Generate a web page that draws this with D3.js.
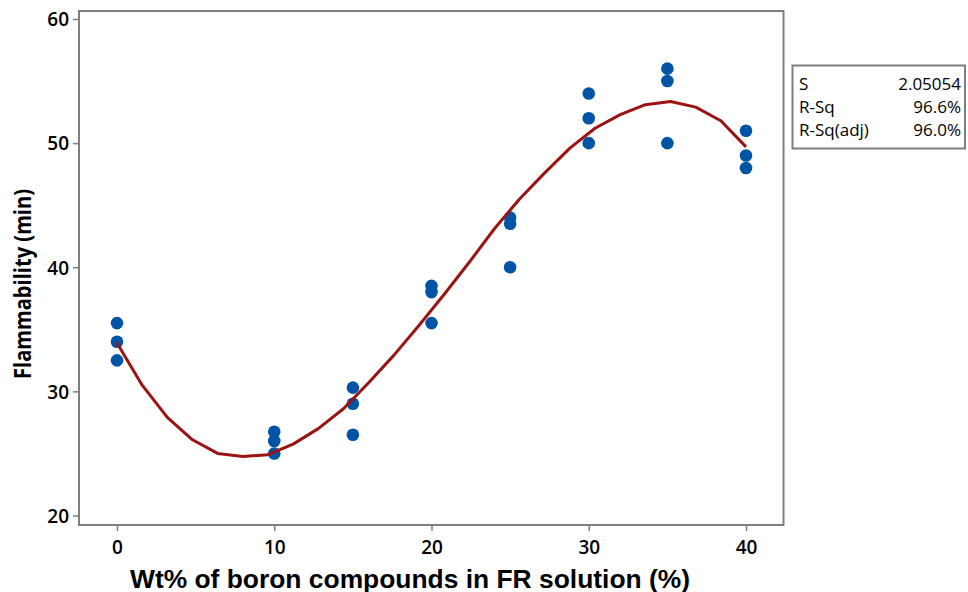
<!DOCTYPE html>
<html>
<head>
<meta charset="utf-8">
<script src="https://cdn.jsdelivr.net/npm/d3@7"></script>
<style>
  body { margin: 0; background: #fff; }
  svg { display: block; }
</style>
</head>
<body>
<svg id="chart" width="968" height="592"></svg>
<script>
// observed flammability, three replicates per loading
const WT_LEVELS = [0, 10, 15, 20, 25, 30, 35, 40];
const REPLICATES = [
    [35.5, 34.0, 32.5],
    [26.75, 26.0, 25.0],
    [30.3, 29.0, 26.5],
    [38.5, 38.0, 35.5],
    [44.0, 43.5, 40.0],
    [54.0, 52.0, 50.0],
    [56.0, 55.0, 50.0],
    [51.0, 49.0, 48.0]
];

// fitted line (vertex every 1.6 wt%)
const FIT_X = [0, 1.6, 3.2, 4.8, 6.4, 8.0, 9.6, 11.2, 12.8, 14.4, 16.0, 17.6, 19.2,
    20.8, 22.4, 24.0, 25.6, 27.2, 28.8, 30.4, 32.0, 33.6, 35.2, 36.8, 38.4, 40.0];
const FIT_Y = [33.9, 30.5, 27.9, 26.1, 25.0, 24.75, 24.9, 25.75, 27.0, 28.6, 30.7, 32.9, 35.3,
    37.8, 40.4, 43.1, 45.5, 47.6, 49.6, 51.2, 52.3, 53.1, 53.35, 52.9, 51.8, 49.7];

const X_TICKS = [0, 10, 20, 30, 40];
const Y_TICKS = [20, 30, 40, 50, 60];

const STAT_LABELS = ['S', 'R-Sq', 'R-Sq(adj)'];
const STAT_VALUES = ['2.05054', '96.6%', '96.0%'];

const X_TITLE = 'Wt% of boron compounds in FR solution (%)';
const Y_TITLE = 'Flammability (min)';

const FRAME = { left: 79, top: 11, right: 783.5, bottom: 525 };
const AXIS_COLOUR = '#7f7f7f';
const POINT_COLOUR = '#0054a6';
const LINE_COLOUR = '#9b1313';

const svg = d3.select('#chart');

const xScale = d3.scaleLinear().domain([0, 40]).range([117, 746]);
const yScale = d3.scaleLinear().domain([20, 60]).range([515.5, 19]);

// axes
const xAxis = svg.append('g')
    .attr('transform', `translate(0,${FRAME.bottom})`)
    .call(d3.axisBottom(xScale).tickValues(X_TICKS).tickSize(6).tickSizeOuter(0).tickPadding(8));
const yAxis = svg.append('g')
    .attr('transform', `translate(${FRAME.left},0)`)
    .call(d3.axisLeft(yScale).tickValues(Y_TICKS).tickSize(6).tickSizeOuter(0).tickPadding(4));

[xAxis, yAxis].forEach(axis => {
    axis.select('.domain').remove();
    axis.selectAll('line').attr('stroke', AXIS_COLOUR).attr('stroke-width', 1.5);
    axis.selectAll('text')
        .attr('fill', '#000')
        .style('font-family', '"Open Sans", sans-serif')
        .style('font-weight', '600')
        .style('font-size', '19px');
});
yAxis.selectAll('text').attr('dy', '0.36em');
xAxis.selectAll('text').attr('dy', '0.8em');

// plot frame
svg.append('rect')
    .attr('x', FRAME.left)
    .attr('y', FRAME.top)
    .attr('width', FRAME.right - FRAME.left)
    .attr('height', FRAME.bottom - FRAME.top)
    .attr('fill', 'none')
    .attr('stroke', AXIS_COLOUR)
    .attr('stroke-width', 2);

// scatter points
const points = [];
WT_LEVELS.forEach((wt, i) => REPLICATES[i].forEach(v => points.push({ wt, v })));

svg.append('g').selectAll('circle')
    .data(points)
    .enter().append('circle')
    .attr('cx', d => xScale(d.wt))
    .attr('cy', d => yScale(d.v))
    .attr('r', 6.3)
    .attr('fill', POINT_COLOUR);

// fitted cubic line
const fitLine = d3.line()
    .x(d => xScale(d[0]))
    .y(d => yScale(d[1]));

svg.append('path')
    .attr('d', fitLine(FIT_X.map((x, i) => [x, FIT_Y[i]])))
    .attr('fill', 'none')
    .attr('stroke', LINE_COLOUR)
    .attr('stroke-width', 3)
    .attr('stroke-linejoin', 'round');

// axis titles
svg.append('text')
    .attr('x', 410)
    .attr('y', 588)
    .attr('text-anchor', 'middle')
    .attr('textLength', 560)
    .attr('lengthAdjust', 'spacingAndGlyphs')
    .style('font-family', '"Liberation Sans", Arial, sans-serif')
    .style('font-weight', 'bold')
    .style('font-size', '25px')
    .text(X_TITLE);

svg.append('text')
    .attr('transform', 'translate(31,284) rotate(-90)')
    .attr('text-anchor', 'middle')
    .attr('textLength', 190)
    .attr('lengthAdjust', 'spacingAndGlyphs')
    .style('font-family', '"Open Sans", sans-serif')
    .style('font-weight', 'bold')
    .style('font-size', '24px')
    .text(Y_TITLE);

// summary box
const box = svg.append('g');
box.append('rect')
    .attr('x', 792.5)
    .attr('y', 65.5)
    .attr('width', 172.5)
    .attr('height', 83)
    .attr('fill', '#fff')
    .attr('stroke', AXIS_COLOUR)
    .attr('stroke-width', 2);

STAT_LABELS.forEach((label, i) => {
    const y = 90 + i * 23;
    box.append('text')
        .attr('x', 799)
        .attr('y', y)
        .style('font-family', '"Open Sans", sans-serif')
        .style('font-size', '17px')
        .text(label);
    box.append('text')
        .attr('x', 961)
        .attr('y', y)
        .attr('text-anchor', 'end')
        .style('font-family', '"Open Sans", sans-serif')
        .style('font-size', '17px')
        .text(STAT_VALUES[i]);
});
</script>
</body>
</html>
